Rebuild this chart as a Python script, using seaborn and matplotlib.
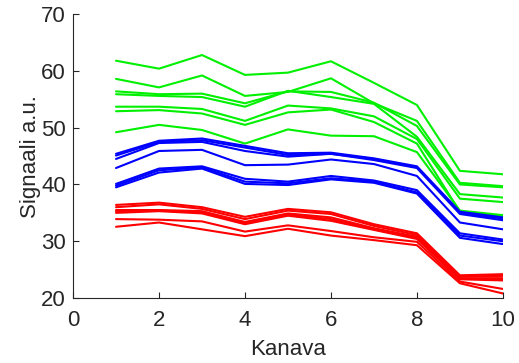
import pandas as pd
import matplotlib.pyplot as plt
import seaborn as sns

kanava = [1, 2, 3, 4, 5, 6, 7, 8, 9, 10]

# green group
green_1 = [61.8, 60.4, 62.8, 59.3, 59.7, 61.7, 57.9, 54.0, 42.4, 41.8]
green_2 = [58.6, 57.1, 59.2, 55.6, 56.3, 58.7, 54.3, 51.2, 40.3, 39.7]
green_3 = [56.4, 55.9, 56.0, 54.3, 56.4, 56.3, 54.4, 50.3, 40.0, 39.5]
green_4 = [55.9, 55.6, 55.4, 53.7, 56.5, 55.4, 54.2, 48.4, 38.3, 37.7]
green_5 = [53.7, 53.7, 53.3, 51.2, 53.9, 53.4, 52.0, 48.0, 37.5, 36.9]
green_6 = [52.9, 53.1, 52.5, 50.5, 52.7, 53.2, 51.0, 47.2, 35.2, 34.4]
green_7 = [49.2, 50.5, 49.6, 47.2, 49.7, 48.6, 48.5, 45.7, 35.4, 34.6]

# blue group
blue_1 = [45.4, 47.7, 48.1, 46.8, 45.5, 45.6, 44.6, 43.2, 35.2, 34.2]
blue_2 = [45.1, 47.5, 47.8, 46.5, 45.2, 45.4, 44.5, 43.0, 35.0, 34.0]
blue_3 = [44.5, 47.3, 47.5, 45.9, 44.9, 45.4, 44.3, 42.9, 34.8, 33.7]
blue_4 = [42.9, 45.9, 46.1, 43.4, 43.5, 44.4, 43.6, 41.5, 33.3, 32.1]
blue_5 = [40.1, 42.8, 43.2, 41.0, 40.5, 41.5, 40.7, 39.0, 31.4, 30.3]
blue_6 = [39.8, 42.5, 43.0, 40.5, 40.2, 41.1, 40.5, 38.6, 31.0, 30.0]
blue_7 = [39.5, 42.1, 42.8, 40.1, 39.9, 40.9, 40.3, 38.4, 30.6, 29.5]

# red group
red_1 = [36.4, 36.8, 36.0, 34.3, 35.7, 35.1, 33.0, 31.4, 24.0, 24.2]
red_2 = [36.0, 36.5, 35.7, 33.9, 35.4, 34.8, 32.7, 31.1, 23.8, 23.9]
red_3 = [35.5, 35.5, 35.3, 33.4, 34.9, 34.2, 32.3, 30.8, 23.5, 23.5]
red_4 = [35.3, 35.4, 35.1, 33.2, 34.7, 33.9, 32.1, 30.6, 23.4, 23.3]
red_5 = [35.0, 35.3, 34.9, 33.0, 34.5, 33.6, 32.0, 30.4, 23.3, 23.1]
red_6 = [33.9, 33.8, 33.5, 31.7, 32.8, 31.8, 30.7, 29.9, 22.9, 21.6]
red_7 = [32.55, 33.3, 32.1, 30.9, 32.2, 31.0, 30.2, 29.3, 22.6, 20.8]

groups = {
    "green": [green_1, green_2, green_3, green_4, green_5, green_6, green_7],
    "blue": [blue_1, blue_2, blue_3, blue_4, blue_5, blue_6, blue_7],
    "red": [red_1, red_2, red_3, red_4, red_5, red_6, red_7],
}

rows = []
for g, lines in groups.items():
    for i, vals in enumerate(lines):
        for k, v in zip(kanava, vals):
            rows.append({"Kanava": k, "Signaali": v, "group": g, "line": f"{g}{i}"})
df = pd.DataFrame(rows)

sns.set_style("white")
plt.rcParams["font.family"] = ["Liberation Sans", "DejaVu Sans"]

fig = plt.figure(figsize=(5.19, 3.63), dpi=100)
ax = fig.add_axes([0.1407, 0.179, 0.8283, 0.782])
palette = {"green": "#00f000", "blue": "#0000ff", "red": "#ff0000"}
sns.lineplot(data=df, x="Kanava", y="Signaali", hue="group", units="line",
             estimator=None, palette=palette, linewidth=1.5, legend=False, ax=ax)

ax.set_xlim(0, 10)
ax.set_ylim(20, 70)
ax.set_xticks([0, 2, 4, 6, 8, 10])
ax.set_yticks([20, 30, 40, 50, 60, 70])
ax.set_xlabel("Kanava", fontsize=16, color="#262626", labelpad=6)
ax.set_ylabel("Signaali a.u.", fontsize=16, color="#262626", labelpad=0)
ax.tick_params(direction="in", length=4, width=0.8, colors="#262626",
               labelsize=16, bottom=True, left=True)
ax.tick_params(axis="x", pad=8.5)
ax.tick_params(axis="y", pad=5)
sns.despine(ax=ax)
for s in ["left", "bottom"]:
    ax.spines[s].set_color("#262626")
    ax.spines[s].set_linewidth(0.8)

fig.savefig("out.png", dpi=100)
